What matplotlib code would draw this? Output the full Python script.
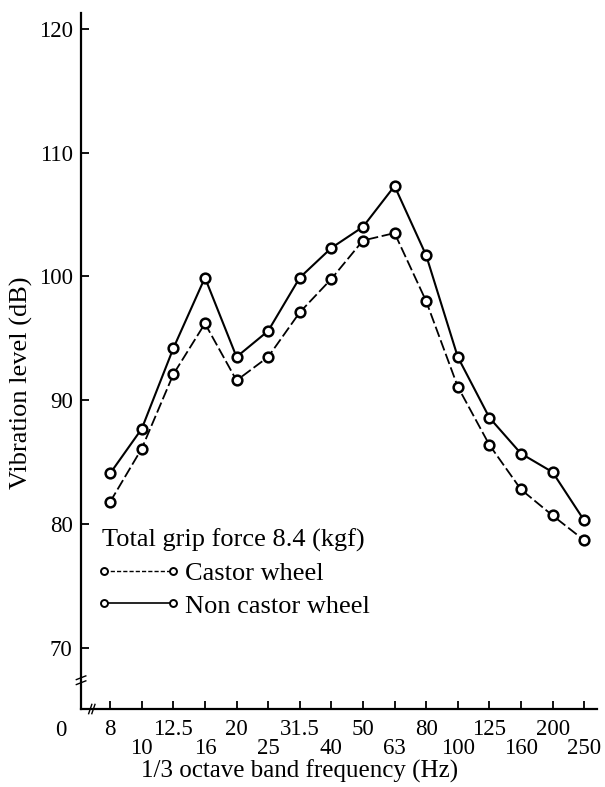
import matplotlib.pyplot as plt
from matplotlib.lines import Line2D
from matplotlib.legend_handler import HandlerLine2D

# 1/3 octave band centre frequencies (Hz)
freq_labels = ["8", "10", "12.5", "16", "20", "25", "31.5", "40",
               "50", "63", "80", "100", "125", "160", "200", "250"]
# vibration level (dB)
castor = [81.8, 86.1, 92.1, 96.2, 91.6, 93.5, 97.1, 99.8,
          102.9, 103.5, 98.0, 91.1, 86.4, 82.8, 80.7, 78.7]
non_castor = [84.1, 87.7, 94.2, 99.9, 93.5, 95.6, 99.9, 102.3,
              104.0, 107.3, 101.7, 93.5, 88.6, 85.7, 84.2, 80.3]
y_ticks = [70, 80, 90, 100, 110, 120]

plt.rcParams["font.family"] = ["Liberation Serif", "DejaVu Serif"]
tick_fs = 16.5
text_fs = 19

fig = plt.figure(figsize=(6.05, 7.87), dpi=100)
ax = fig.add_axes([0.134, 0.099, 0.853, 0.885])

x = list(range(len(freq_labels)))
ax.plot(x, castor, color="black", lw=1.3, dashes=(6, 2),
        marker="o", ms=7, mfc="white", mec="black", mew=1.8)
ax.plot(x, non_castor, color="black", lw=1.5,
        marker="o", ms=7, mfc="white", mec="black", mew=1.8)

ax.set_xlim(-0.92, 15.41)
ax.set_ylim(65.07, 121.3)

for side in ("top", "right"):
    ax.spines[side].set_visible(False)
ax.spines["left"].set_linewidth(1.6)
ax.spines["bottom"].set_linewidth(1.6)

ax.set_yticks(y_ticks)
ax.tick_params(axis="y", direction="in", length=6, width=1.3, pad=6,
               labelsize=tick_fs)

# alternate labels in two rows: majors on top row, minors lower
ax.set_xticks(x[0::2])
ax.set_xticklabels(freq_labels[0::2])
ax.set_xticks(x[1::2], minor=True)
ax.set_xticklabels(freq_labels[1::2], minor=True)
ax.tick_params(axis="x", which="major", direction="in", length=6, width=1.3,
               pad=7, labelsize=tick_fs)
ax.tick_params(axis="x", which="minor", direction="in", length=6, width=1.3,
               pad=21, labelsize=tick_fs)

ax.set_xlabel("1/3 octave band frequency (Hz)", fontsize=18)
ax.xaxis.set_label_coords(0.424, -0.072)
ax.set_ylabel("Vibration level (dB)", fontsize=text_fs)
ax.yaxis.set_label_coords(-0.093, 0.468)

# origin label and axis break marks
ax.annotate("0", xy=(-1.55, 0), xycoords=("data", "axes fraction"),
            xytext=(0, -8), textcoords="offset points",
            ha="center", va="top", fontsize=tick_fs)
ax.plot([-0.68, -0.58], [64.7, 65.45], color="black", lw=1.0, clip_on=False)
ax.plot([-0.58, -0.48], [64.7, 65.45], color="black", lw=1.0, clip_on=False)
ax.plot([-1.07, -0.77], [67.45, 67.75], color="black", lw=1.0, clip_on=False)
ax.plot([-1.07, -0.77], [67.05, 67.35], color="black", lw=1.0, clip_on=False)

handles = [
    Line2D([], [], color="black", lw=1.0, dashes=(3, 1.5), marker="o", ms=5,
           mfc="white", mec="black", mew=1.4),
    Line2D([], [], color="black", lw=1.2, marker="o", ms=5,
           mfc="white", mec="black", mew=1.4),
]
ax.legend(handles, ["Castor wheel", "Non castor wheel"],
          handler_map={Line2D: HandlerLine2D(marker_pad=0.1)},
          loc="upper left", bbox_to_anchor=(0.04, 0.259),
          title="Total grip force 8.4 (kgf)", title_fontsize=text_fs,
          fontsize=text_fs, frameon=False, numpoints=2, handlelength=2.79,
          handletextpad=0.36, labelspacing=0.35, alignment="left",
          borderaxespad=0, borderpad=0)

fig.savefig("out.png", dpi=100)
